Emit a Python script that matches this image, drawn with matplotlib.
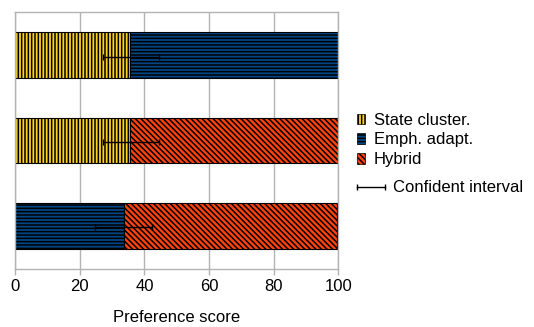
import matplotlib
matplotlib.use("Agg")
import matplotlib.pyplot as plt
import matplotlib.patches as mpatches
from matplotlib.lines import Line2D
from matplotlib.legend_handler import HandlerLine2D

plt.rcParams["font.family"] = ["Liberation Sans", "DejaVu Sans"]
plt.rcParams["hatch.linewidth"] = 1.1

# bars from top to bottom
rows = [2, 1, 0]
first_vals = [35.6, 35.5, 33.8]
second_vals = [64.4, 64.5, 65.6]
first_names = ["State cluster.", "State cluster.", "Emph. adapt."]
second_names = ["Emph. adapt.", "Hybrid", "Hybrid"]
ci_low = [27.1, 27.1, 24.6]
ci_high = [44.5, 44.5, 42.2]

series_labels = ["State cluster.", "Emph. adapt.", "Hybrid"]
colors = {"State cluster.": "#ffd320", "Emph. adapt.": "#004586", "Hybrid": "#ff420e"}
hatches = {"State cluster.": "|||||", "Emph. adapt.": "-----", "Hybrid": "\\\\\\\\\\\\"}
x_ticks = [0, 20, 40, 60, 80, 100]

fig = plt.figure(figsize=(5.34, 3.27), dpi=100)
ax = fig.add_axes([15/534, 1-269/327, (338.5-15)/534, (269-12)/327])

for y, v1, v2, n1, n2 in zip(rows, first_vals, second_vals, first_names, second_names):
    ax.barh(y, v1, height=0.54, color=colors[n1], hatch=hatches[n1],
            edgecolor="black", linewidth=0.8, zorder=2)
    ax.barh(y, v2, left=v1, height=0.54, color=colors[n2], hatch=hatches[n2],
            edgecolor="black", linewidth=0.8, zorder=2)

# confidence intervals
for y, lo, hi in zip(rows, ci_low, ci_high):
    mid = (lo + hi) / 2
    ax.errorbar(mid, y - 0.02, xerr=[[mid - lo], [hi - mid]], fmt="none",
                ecolor="black", elinewidth=1, capsize=2.5, capthick=1, zorder=3)

ax.set_xlim(0, 100)
ax.set_ylim(-0.51, 2.51)
ax.set_xticks(x_ticks)
ax.set_yticks([])
ax.grid(axis="x", color="#b3b3b3", linewidth=1, zorder=0)
for s in ax.spines.values():
    s.set_color("#b3b3b3")
    s.set_linewidth(1)
ax.tick_params(axis="x", direction="out", length=4, width=1, color="#b3b3b3",
               labelsize=12, pad=3)
ax.set_xlabel("Preference score", fontsize=12, labelpad=11.5)

handles = [mpatches.Patch(facecolor=colors[n], hatch=hatches[n], edgecolor="black",
                          linewidth=0.5, label=n) for n in series_labels]
leg1 = fig.legend(handles=handles, loc="center left", bbox_to_anchor=(357/534, 1-140/327),
                  frameon=False, fontsize=12, borderpad=0, borderaxespad=0,
                  handlelength=0.5, handleheight=0.6, handletextpad=0.5, labelspacing=0.28)
ci_handle = Line2D([0], [0], color="black", linewidth=1, marker="|", markersize=5,
                   label="Confident interval")
fig.legend(handles=[ci_handle], loc="center left", bbox_to_anchor=(357/534, 1-188/327),
           frameon=False, fontsize=12, borderpad=0, borderaxespad=0,
           handlelength=1.7, handletextpad=0.45,
           handler_map={ci_handle: HandlerLine2D(numpoints=2, marker_pad=0)})

fig.savefig("out.png", dpi=100)
